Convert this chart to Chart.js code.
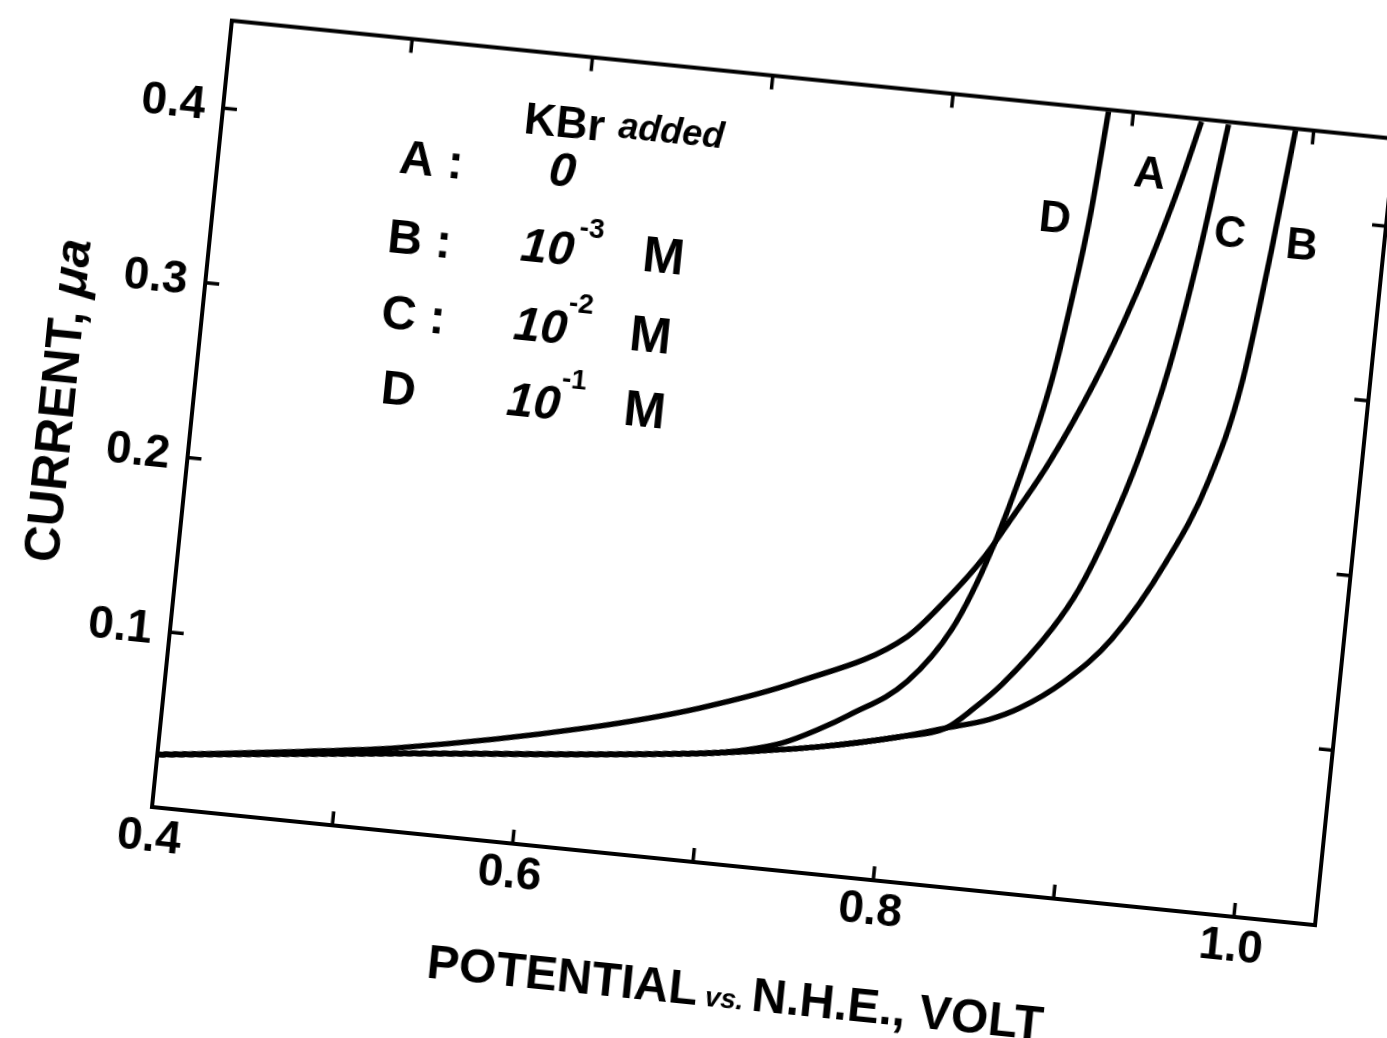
<!DOCTYPE html>
<html>
<head>
<meta charset="utf-8">
<script src="https://cdn.jsdelivr.net/npm/chart.js@4.4.1/dist/chart.umd.min.js"></script>
<style>
  html, body { margin: 0; padding: 0; background: #fff; overflow: hidden; width: 1387px; height: 1038px; }
  #wrap { position: absolute; left: -48px; top: -29px; width: 1400px; height: 1040px;
          transform-origin: 200px 836px; transform: rotate(5.8deg); }
</style>
</head>
<body>
<div id="wrap"><canvas id="ivChart" width="1400" height="1040"></canvas></div>
<script>
const FONT = "'Liberation Sans', Arial, sans-serif";

// axis ticks
const potentialTicks = [0.4, 0.6, 0.8, 1.0];
const potentialMarks = [0.5, 0.6, 0.7, 0.8, 0.9, 1.0];
const currentTicks = [0.1, 0.2, 0.3, 0.4];

// curves (potential V vs N.H.E., current uA)
const curveA_V = [0.400, 0.478, 0.5327, 0.6341, 0.695, 0.7483, 0.805, 0.8234, 0.8428, 0.856, 0.8732, 0.8934, 0.9064, 0.9181, 0.929, 0.9379];
const curveA_I = [0.030, 0.0399, 0.0479, 0.0698, 0.0875, 0.1084, 0.1399, 0.1617, 0.1893, 0.2134, 0.2465, 0.294, 0.3306, 0.3688, 0.4097, 0.4485];

const curveB_V = [0.400, 0.533, 0.6866, 0.7303, 0.763, 0.8063, 0.8315, 0.8548, 0.8705, 0.8937, 0.9176, 0.9429, 0.9619, 0.9746, 0.9835, 0.990];
const curveB_I = [0.030, 0.0445, 0.0605, 0.0668, 0.0725, 0.0827, 0.0904, 0.0978, 0.1058, 0.1236, 0.1505, 0.1969, 0.246, 0.3025, 0.3801, 0.449];

const curveC_V = [0.400, 0.533, 0.6866, 0.7303, 0.763, 0.8063, 0.8315, 0.8458, 0.8598, 0.8841, 0.8967, 0.9098, 0.9222, 0.9337, 0.9438, 0.9529];
const curveC_I = [0.030, 0.0445, 0.0605, 0.0668, 0.0725, 0.0827, 0.0904, 0.1033, 0.1184, 0.1527, 0.1767, 0.2122, 0.2544, 0.3067, 0.3726, 0.4485];

const curveD_V = [0.400, 0.533, 0.6866, 0.7085, 0.7425, 0.762, 0.7776, 0.8076, 0.8293, 0.8425, 0.8533, 0.8698, 0.8763, 0.8822, 0.8863];
const curveD_I = [0.030, 0.0445, 0.0605, 0.0634, 0.0726, 0.0826, 0.0922, 0.1146, 0.147, 0.1808, 0.2177, 0.2916, 0.3377, 0.3906, 0.449];

const curveNames = ['A', 'B', 'C', 'D'];
const kbrAmount = ['0', '10', '10', '10'];
const kbrExponent = ['', '-3', '-2', '-1'];

// where the curve names and the little table sit, in data units
const curveNameAt = { A: [0.9124, 0.4153], B: [0.9998, 0.3830], C: [0.9597, 0.3862], D: [0.8628, 0.3846] };
const tableHeadAt = [[0.5883, 0.4100], [0.6474, 0.4116]];
const rowLetterAt = [[0.5174, 0.3810], [0.5153, 0.3353], [0.5162, 0.2922], [0.5121, 0.2497]];
const rowAmountAt = [[0.5898, 0.3829], [0.5859, 0.3381], [0.5865, 0.2933], [0.5869, 0.2502]];
const rowExpAt = [null, [0.6094, 0.3525], [0.6077, 0.3092], [0.6081, 0.2655]];
const rowUnitAt = [null, [0.6501, 0.3397], [0.6474, 0.2940], [0.6483, 0.2514]];

function pts(xs, ys) {
  return xs.map(function(v, i) { return { x: v, y: ys[i] }; });
}

function lineSet(name, xs, ys) {
  return {
    label: name,
    data: pts(xs, ys),
    borderColor: '#000',
    borderWidth: 5.5,
    pointRadius: 0,
    fill: false,
    cubicInterpolationMode: 'monotone'
  };
}

const decorations = {
  id: 'decorations',
  afterDatasetsDraw(chart) {
    const ctx = chart.ctx;
    const a = chart.chartArea;
    const x = chart.scales.x;
    const y = chart.scales.y;
    ctx.save();
    ctx.strokeStyle = '#000';
    ctx.fillStyle = '#000';

    // frame
    ctx.lineWidth = 4;
    ctx.strokeRect(a.left, a.top, a.right - a.left, a.bottom - a.top);

    // inward ticks on all four sides
    ctx.lineWidth = 3.5;
    ctx.beginPath();
    potentialMarks.forEach(function(v) {
      const px = x.getPixelForValue(v);
      ctx.moveTo(px, a.bottom); ctx.lineTo(px, a.bottom - 14);
      ctx.moveTo(px, a.top); ctx.lineTo(px, a.top + 14);
    });
    currentTicks.forEach(function(v) {
      const py = y.getPixelForValue(v);
      ctx.moveTo(a.left, py); ctx.lineTo(a.left + 14, py);
      ctx.moveTo(a.right, py); ctx.lineTo(a.right - 14, py);
    });
    ctx.stroke();

    ctx.textAlign = 'center';
    ctx.textBaseline = 'middle';
    function put(text, font, at) {
      ctx.font = font;
      ctx.fillText(text, x.getPixelForValue(at[0]), y.getPixelForValue(at[1]));
    }

    // curve names
    curveNames.forEach(function(n) { put(n, 'bold 44px ' + FONT, curveNameAt[n]); });

    // KBr table
    put('KBr', 'bold 44px ' + FONT, tableHeadAt[0]);
    put('added', 'bold italic 36px ' + FONT, tableHeadAt[1]);
    curveNames.forEach(function(n, i) {
      put(i < 3 ? n + ' :' : n, 'bold 48px ' + FONT, rowLetterAt[i]);
      put(kbrAmount[i], 'bold italic 48px ' + FONT, rowAmountAt[i]);
      if (kbrExponent[i]) {
        put(kbrExponent[i], 'bold 28px ' + FONT, rowExpAt[i]);
        put('M', 'bold 50px ' + FONT, rowUnitAt[i]);
      }
    });

    // x title
    const parts = [['POTENTIAL', 'bold 48px ' + FONT], [' vs. ', 'bold italic 28px ' + FONT], ['N.H.E., VOLT', 'bold 48px ' + FONT]];
    let total = 0;
    parts.forEach(function(p) { ctx.font = p[1]; total += ctx.measureText(p[0]).width; });
    let cx = a.left + 599 - total / 2;
    const by = a.bottom + 142;
    ctx.textAlign = 'left';
    ctx.textBaseline = 'alphabetic';
    parts.forEach(function(p) {
      ctx.font = p[1];
      ctx.fillText(p[0], cx, by);
      cx += ctx.measureText(p[0]).width;
    });

    // y title
    ctx.translate(a.left - 136, a.bottom - 395);
    ctx.rotate(-Math.PI / 2);
    const yparts = [['CURRENT, ', 'bold 50px ' + FONT], ['\u03bca', 'bold italic 50px ' + FONT]];
    total = 0;
    yparts.forEach(function(p) { ctx.font = p[1]; total += ctx.measureText(p[0]).width; });
    cx = -total / 2;
    yparts.forEach(function(p) {
      ctx.font = p[1];
      ctx.fillText(p[0], cx, 18);
      cx += ctx.measureText(p[0]).width;
    });
    ctx.restore();
  }
};

const ctx = document.getElementById('ivChart').getContext('2d');
const chart = new Chart(ctx, {
  type: 'line',
  data: {
    datasets: [
      lineSet('A', curveA_V, curveA_I),
      lineSet('B', curveB_V, curveB_I),
      lineSet('C', curveC_V, curveC_I),
      lineSet('D', curveD_V, curveD_I)
    ]
  },
  options: {
    responsive: false,
    animation: false,
    devicePixelRatio: 1,
    layout: { padding: { left: 0, top: 40, right: 31, bottom: 0 } },
    plugins: { legend: { display: false }, tooltip: { enabled: false } },
    scales: {
      x: {
        type: 'linear',
        min: 0.4,
        max: 1.045,
        afterFit: function(s) { s.height = 204; },
        afterBuildTicks: function(s) { s.ticks = potentialTicks.map(function(v) { return { value: v }; }); },
        ticks: {
          autoSkip: false,
          maxRotation: 0,
          padding: 4,
          color: '#000',
          font: { family: FONT, size: 46, weight: 'bold' },
          callback: function(v) { return Number(v).toFixed(1); }
        },
        grid: { display: false, drawTicks: false },
        border: { display: false }
      },
      y: {
        type: 'linear',
        min: 0,
        max: 0.45,
        afterFit: function(s) { s.width = 200; },
        afterBuildTicks: function(s) { s.ticks = currentTicks.map(function(v) { return { value: v }; }); },
        ticks: {
          autoSkip: false,
          padding: 18,
          color: '#000',
          font: { family: FONT, size: 46, weight: 'bold' },
          callback: function(v) { return Number(v).toFixed(1); }
        },
        grid: { display: false, drawTicks: false },
        border: { display: false }
      }
    }
  },
  plugins: [decorations]
});
</script>
</body>
</html>
